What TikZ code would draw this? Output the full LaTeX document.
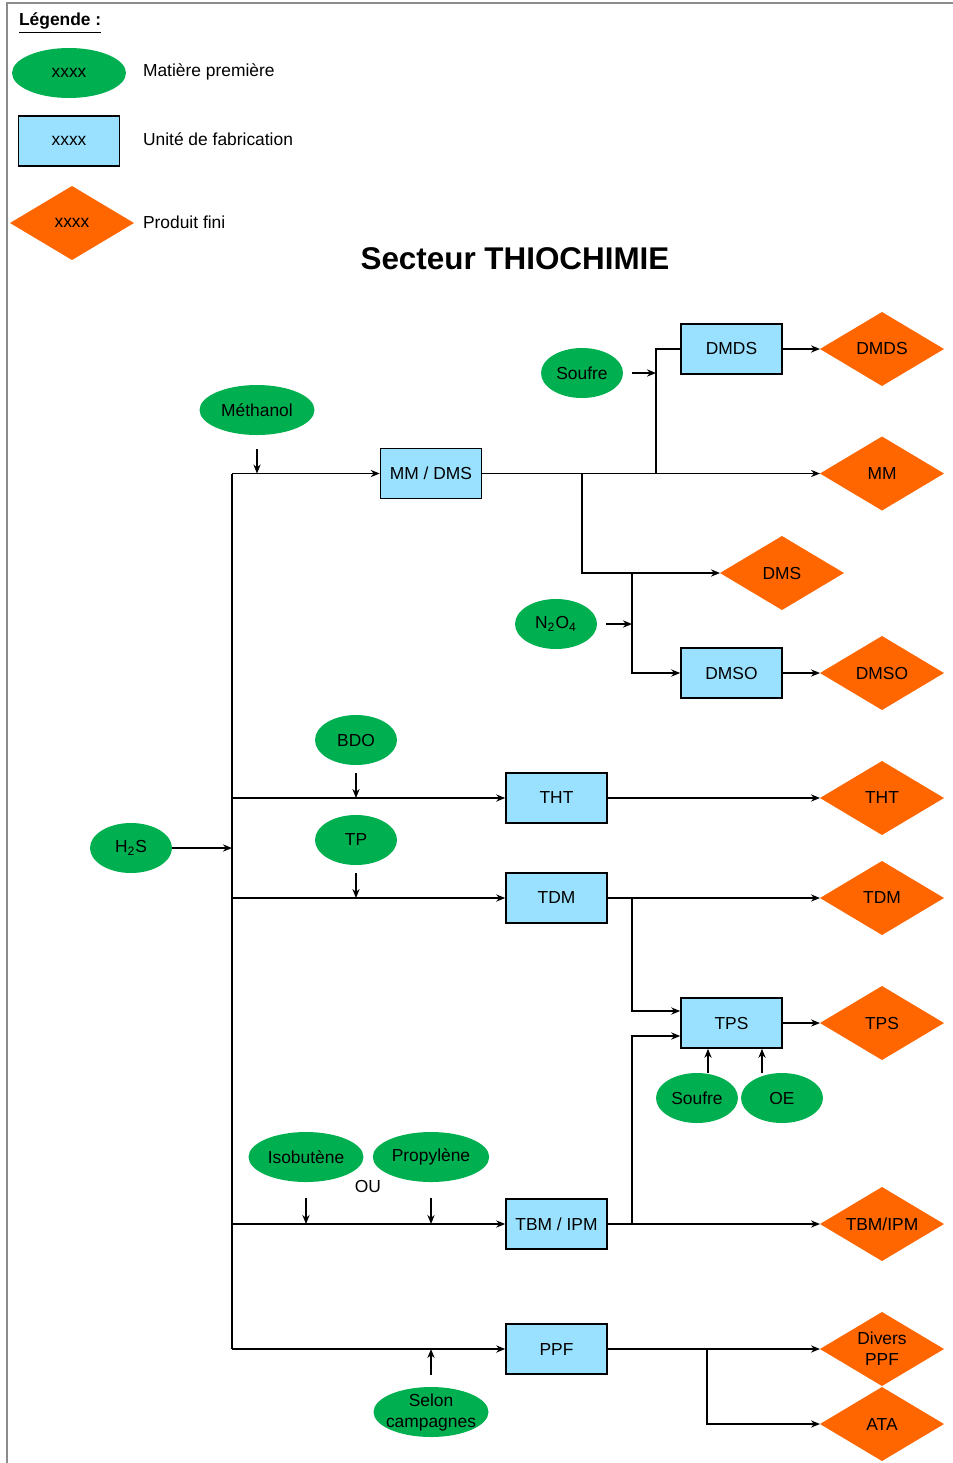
\documentclass[tikz,border=0pt]{standalone}
\usepackage{fontspec}
\setmainfont{Liberation Sans}
\usetikzlibrary{shapes.geometric, arrows.meta}
\definecolor{matgreen}{RGB}{0,176,80}
\definecolor{unitblue}{RGB}{153,225,255}
\definecolor{prodorange}{RGB}{255,102,0}
\tikzstyle{matiere} = [ellipse,
minimum width=41pt,
minimum height=25pt,
inner sep=1pt,
outer sep=0pt,
text centered,
fill=matgreen]
\tikzstyle{unite} = [rectangle,
minimum width=50.5pt,
minimum height=25pt,
text centered,
draw=black,
line width=0.8pt,
fill=unitblue]
\tikzstyle{produit} = [diamond,
aspect=1.68,
minimum width=62pt,
minimum height=37pt,
inner sep=0pt,
outer sep=0pt,
text centered,
align=center,
fill=prodorange]
\tikzstyle{arrow} = [line width=0.7pt, ->, >={Stealth[length=4.5pt,width=3.6pt]}]
\tikzstyle{line} = [line width=0.7pt]

\begin{document}
\begin{tikzpicture}[x=0.5pt, y=-0.5pt, font=\fontsize{8.7}{10.5}\selectfont]
			\useasboundingbox (0,0) rectangle (953,1463);
			\draw[black!45, line width=1pt] (7,1463) -- (7,3) -- (953,3);

			% legende
			\node (leg) [anchor=west] at (12,23) {\textbf{\underline{Légende :}}};
			\node (legmat) [matiere, minimum width=57pt] at (69,73) {xxxx};
			\node (legunit) [unite] at (69,141) {xxxx};
			\node (legprod) [produit] at (72,223) {xxxx};
			\node [anchor=west] at (136,72) {Matière première};
			\node [anchor=west] at (136,139) {Unité de fabrication};
			\node [anchor=west] at (136,222) {Produit fini};
			\node (title) at (515,259) {\fontsize{15.7}{18}\selectfont\textbf{Secteur THIOCHIMIE}};

			% matieres premieres
			\node (meth) [matiere, minimum width=57.5pt] at (257,410) {Méthanol};
			\node (soufa) [matiere] at (582,373) {Soufre};
			\node (ntwo) [matiere] at (556,624) {N\textsubscript{2}O\textsubscript{4}};
			\node (bdo) [matiere] at (356,740) {BDO};
			\node (htwos) [matiere] at (131,848) {H\textsubscript{2}S};
			\node (tp) [matiere] at (356,840) {TP};
			\node (soufb) [matiere] at (697,1098) {Soufre};
			\node (oe) [matiere] at (782,1098) {OE};
			\node (isob) [matiere, minimum width=57.5pt] at (306,1157) {Isobutène};
			\node (prop) [matiere, minimum width=57.5pt] at (431,1157) {Propylène};
			\node (ou) at (368,1186) {OU};
			\node (selon) [matiere, minimum width=57.5pt, inner sep=-3pt, align=center] at (431,1412) {Selon\\campagnes};

			% unites
			\node (mmdmsu) [unite] at (431,473.5) {MM / DMS};
			\node (dmdsu) [unite] at (731.5,349) {DMDS};
			\node (dmsou) [unite] at (731.5,673) {DMSO};
			\node (thtu) [unite] at (556.5,798) {THT};
			\node (tdmu) [unite] at (556.5,898) {TDM};
			\node (tpsu) [unite] at (731.5,1023) {TPS};
			\node (tbmu) [unite] at (556.5,1224) {TBM / IPM};
			\node (ppfu) [unite] at (556.5,1349) {PPF};

			% produits finis
			\node (dmds) [produit] at (882,349) {DMDS};
			\node (mm) [produit] at (882,473.5) {MM};
			\node (dms) [produit] at (782,573) {DMS};
			\node (dmso) [produit] at (882,673) {DMSO};
			\node (tht) [produit] at (882,798) {THT};
			\node (tdm) [produit] at (882,898) {TDM};
			\node (tps) [produit] at (882,1023) {TPS};
			\node (tbm) [produit] at (882,1224) {TBM/IPM};
			\node (divers) [produit] at (882,1349) {Divers\\PPF};
			\node (ata) [produit] at (882,1424) {ATA};

			% embranchements
			\coordinate (bustop) at (232,473.5);
			\coordinate (busbot) at (232,1349);
			\coordinate (kdmds) at (656,473.5);
			\coordinate (kdms) at (582,473.5);
			\coordinate (kdmso) at (632,573);
			\coordinate (ktdm) at (632,898);
			\coordinate (ktbm) at (632,1224);
			\coordinate (kppf) at (707,1349);

			\draw[line] (bustop) -- (busbot);
			\draw[arrow] (htwos.east) -- (htwos -| bustop);
			\draw[arrow] (bustop) -- (mmdmsu.west);
			\draw[arrow] (bustop |- thtu) -- (thtu.west);
			\draw[arrow] (bustop |- tdmu) -- (tdmu.west);
			\draw[arrow] (bustop |- tbmu) -- (tbmu.west);
			\draw[arrow] (busbot) -- (ppfu.west);

			\draw[arrow] ([yshift=-7pt]meth.south) -- (meth |- bustop);
			\draw[arrow] ([yshift=-4pt]bdo.south) -- (bdo |- thtu);
			\draw[arrow] ([yshift=-4pt]tp.south) -- (tp |- tdmu);
			\draw[arrow] ([yshift=-8pt]isob.south) -- (isob |- tbmu);
			\draw[arrow] ([yshift=-8pt]prop.south) -- (prop |- tbmu);
			\draw[arrow] ([yshift=6pt]selon.north) -- (selon |- ppfu);

			\draw[arrow] (mmdmsu.east) -- (mm.west);
			\draw[line] (kdmds) |- (dmdsu.west);
			\draw[arrow] ([xshift=4.5pt]soufa.east) -- (soufa -| kdmds);
			\draw[arrow] (dmdsu.east) -- (dmds.west);
			\draw[arrow] (kdms) |- (dms.west);
			\draw[arrow] (kdmso) |- (dmsou.west);
			\draw[arrow] ([xshift=4.5pt]ntwo.east) -- (ntwo -| kdmso);
			\draw[arrow] (dmsou.east) -- (dmso.west);

			\draw[arrow] (thtu.east) -- (tht.west);
			\draw[arrow] (tdmu.east) -- (tdm.west);
			\draw[arrow] (ktdm) |- ([yshift=6pt]tpsu.west);
			\draw[arrow] (tbmu.east) -- (tbm.west);
			\draw[arrow] (ktbm) |- ([yshift=-6.5pt]tpsu.west);
			\draw[arrow] ([xshift=5.5pt]soufb.north) -- ([xshift=5.5pt]soufb.north |- tpsu.south);
			\draw[arrow] ([xshift=-10pt]oe.north) -- ([xshift=-10pt]oe.north |- tpsu.south);
			\draw[arrow] (tpsu.east) -- (tps.west);

			\draw[arrow] (ppfu.east) -- (divers.west);
			\draw[arrow] (kppf) |- (ata.west);
		\end{tikzpicture}
\end{document}
